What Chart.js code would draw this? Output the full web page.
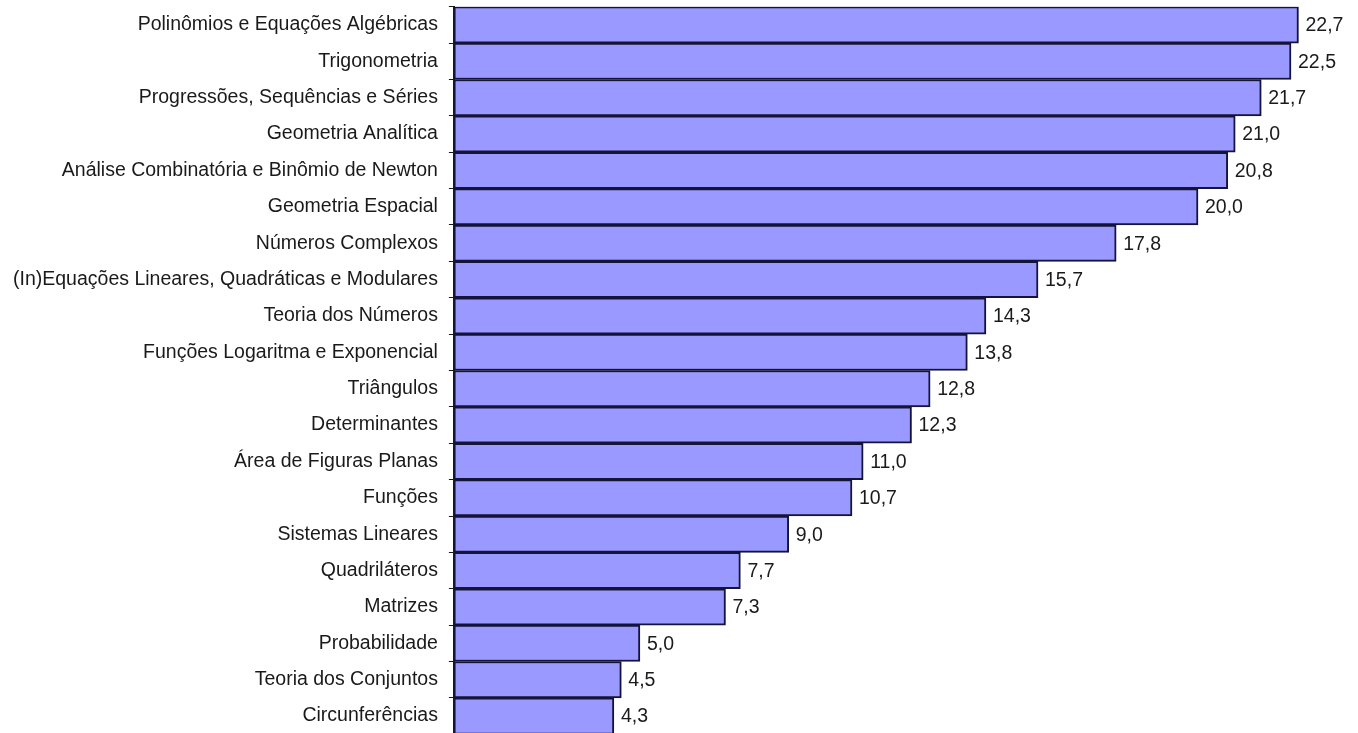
<!DOCTYPE html>
<html>
<head>
<meta charset="utf-8">
<script src="https://cdn.jsdelivr.net/npm/chart.js@4"></script>
<style>
  html, body { margin: 0; padding: 0; background: #fff; }
  #wrap { width: 1358px; height: 733px; overflow: hidden; position: relative; }
  #inner { position: absolute; left: 0; top: -16px; width: 1358px; height: 773px; }
</style>
</head>
<body>
<div id="wrap"><div id="inner"><canvas id="chart"></canvas></div></div>
<script>
const topics = [
    'Polinômios e Equações Algébricas',
    'Trigonometria',
    'Progressões, Sequências e Séries',
    'Geometria Analítica',
    'Análise Combinatória e Binômio de Newton',
    'Geometria Espacial',
    'Números Complexos',
    '(In)Equações Lineares, Quadráticas e Modulares',
    'Teoria dos Números',
    'Funções Logaritma e Exponencial',
    'Triângulos',
    'Determinantes',
    'Área de Figuras Planas',
    'Funções',
    'Sistemas Lineares',
    'Quadriláteros',
    'Matrizes',
    'Probabilidade',
    'Teoria dos Conjuntos',
    'Circunferências'
];

const percentages = [22.7, 22.5, 21.7, 21.0, 20.8, 20.0, 17.8, 15.7, 14.3, 13.8,
    12.8, 12.3, 11.0, 10.7, 9.0, 7.7, 7.3, 5.0, 4.5, 4.3];

const FONT = '"Liberation Sans", Arial, sans-serif';

// rótulos de valor à direita das barras, com vírgula decimal
const valueLabels = {
    id: 'valueLabels',
    afterDatasetsDraw(chart) {
        const ctx = chart.ctx;
        const meta = chart.getDatasetMeta(0);
        ctx.save();
        ctx.font = '19.5px ' + FONT;
        ctx.fillStyle = '#1a1a1a';
        ctx.textAlign = 'left';
        ctx.textBaseline = 'middle';
        meta.data.forEach((bar, i) => {
            ctx.fillText(percentages[i].toFixed(1).replace('.', ','), bar.x + 7, bar.y + 1);
        });
        ctx.restore();
    }
};

new Chart(document.getElementById('chart'), {
    type: 'bar',
    data: {
        labels: topics,
        datasets: [{
            data: percentages,
            backgroundColor: '#9999ff',
            borderColor: '#14143a',
            borderWidth: 2,
            borderSkipped: false,
            barPercentage: 1,
            categoryPercentage: 1
        }]
    },
    options: {
        indexAxis: 'y',
        responsive: true,
        maintainAspectRatio: false,
        animation: false,
        layout: { padding: { top: 5, bottom: 0, left: 2, right: 0 } },
        scales: {
            x: {
                display: false,
                min: 0,
                max: 24.3
            },
            y: {
                ticks: {
                    color: '#1a1a1a',
                    padding: 11,
                    font: { family: FONT, size: 19.5 }
                },
                grid: {
                    drawOnChartArea: false,
                    color: '#1a1a1a',
                    tickLength: 5,
                    offset: true
                },
                border: { color: '#1a1a1a', width: 2 }
            }
        },
        plugins: {
            legend: { display: false },
            tooltip: { enabled: false }
        }
    },
    plugins: [valueLabels]
});
</script>
</body>
</html>
